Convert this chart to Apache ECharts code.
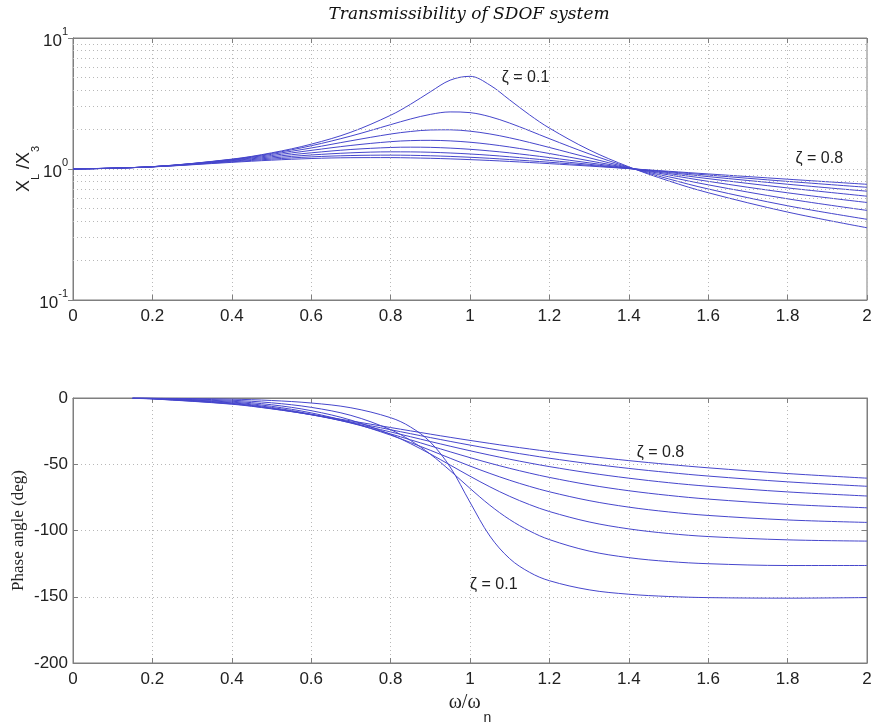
<!DOCTYPE html>
<html><head><meta charset="utf-8">
<script src="https://cdn.jsdelivr.net/npm/echarts@6/dist/echarts.min.js"></script>
<style>html,body{margin:0;padding:0;background:#fff}#c{width:872px;height:726px}</style>
</head><body><div id="c"></div>
<script>
// damping ratios
const zetaLabels = ['0.1','0.2','0.3','0.4','0.5','0.6','0.7','0.8'];

// frequency ratio samples (top: magnitude)
const xMag = [0, 0.2, 0.4, 0.5, 0.6, 0.7, 0.8, 0.85, 0.9, 0.95, 1.0, 1.05, 1.1, 1.15, 1.2, 1.3, 1.4, 1.5, 1.6, 1.8, 2.0];
const mag1 = [1, 1.042, 1.189, 1.328, 1.547, 1.909, 2.571, 3.117, 3.882, 4.766, 5.099, 4.373, 3.367, 2.590, 2.052, 1.401, 1.039, 0.812, 0.659, 0.469, 0.356];
const mag2 = [1, 1.041, 1.184, 1.314, 1.505, 1.785, 2.180, 2.407, 2.611, 2.727, 2.693, 2.509, 2.241, 1.959, 1.704, 1.305, 1.031, 0.841, 0.704, 0.524, 0.413];
const mag3 = [1, 1.041, 1.177, 1.293, 1.447, 1.642, 1.849, 1.933, 1.985, 1.991, 1.944, 1.852, 1.730, 1.595, 1.460, 1.218, 1.024, 0.873, 0.757, 0.592, 0.483];
const mag4 = [1, 1.041, 1.168, 1.267, 1.387, 1.513, 1.617, 1.647, 1.655, 1.639, 1.601, 1.543, 1.472, 1.394, 1.313, 1.156, 1.018, 0.902, 0.805, 0.658, 0.555];
const mag5 = [1, 1.040, 1.158, 1.240, 1.329, 1.409, 1.460, 1.468, 1.463, 1.444, 1.414, 1.374, 1.328, 1.276, 1.222, 1.114, 1.014, 0.923, 0.844, 0.717, 0.620];
const mag6 = [1, 1.039, 1.147, 1.214, 1.279, 1.329, 1.352, 1.351, 1.342, 1.325, 1.302, 1.273, 1.239, 1.203, 1.164, 1.086, 1.010, 0.940, 0.875, 0.765, 0.677];
const mag7 = [1, 1.039, 1.135, 1.190, 1.237, 1.267, 1.276, 1.272, 1.262, 1.248, 1.229, 1.207, 1.181, 1.154, 1.126, 1.067, 1.008, 0.952, 0.899, 0.804, 0.725];
const mag8 = [1, 1.038, 1.124, 1.168, 1.202, 1.220, 1.222, 1.216, 1.207, 1.195, 1.179, 1.162, 1.142, 1.121, 1.099, 1.053, 1.007, 0.961, 0.917, 0.836, 0.764];

// frequency ratio samples (bottom: phase, deg)
const xPhase = [0.15, 0.2, 0.4, 0.5, 0.6, 0.7, 0.8, 0.85, 0.9, 0.95, 1.0, 1.05, 1.1, 1.15, 1.2, 1.3, 1.4, 1.5, 1.6, 1.8, 2.0];
const ph1 = [-0.04, -0.10, -0.87, -1.88, -3.78, -7.38, -14.87, -21.85, -33.25, -52.08, -78.69, -104.16, -121.26, -131.55, -137.9, -144.78, -148.1, -149.8, -150.66, -151.07, -150.61];
const ph2 = [-0.08, -0.19, -1.69, -3.62, -7.06, -13.12, -23.89, -32.0, -42.38, -54.83, -68.20, -80.93, -91.76, -100.33, -106.87, -115.52, -120.49, -123.40, -125.07, -126.43, -126.41];
const ph3 = [-0.12, -0.28, -2.45, -5.10, -9.56, -16.69, -27.49, -34.43, -42.25, -50.61, -59.04, -67.03, -74.23, -80.45, -85.68, -93.54, -98.78, -102.26, -104.56, -107.06, -108.0];
const ph4 = [-0.16, -0.37, -3.11, -6.27, -11.23, -18.43, -28.02, -33.58, -39.46, -45.45, -51.34, -56.92, -62.07, -66.70, -70.79, -77.44, -82.36, -85.97, -88.63, -92.04, -93.9];
const ph5 = [-0.19, -0.46, -3.66, -7.13, -12.19, -18.93, -27.11, -31.55, -36.09, -40.61, -45.0, -49.18, -53.08, -56.67, -59.94, -65.53, -69.98, -73.50, -76.28, -80.27, -82.87];
const ph6 = [-0.23, -0.54, -4.10, -7.70, -12.61, -18.71, -25.62, -29.21, -32.82, -36.37, -39.81, -43.09, -46.19, -49.08, -51.77, -56.52, -60.51, -63.9, -66.61, -70.88, -73.96];
const ph7 = [-0.27, -0.62, -4.44, -8.03, -12.66, -18.09, -23.94, -26.92, -29.86, -32.74, -35.54, -38.22, -40.76, -43.17, -45.44, -49.55, -53.13, -56.22, -58.91, -63.28, -66.64];
const ph8 = [-0.30, -0.69, -4.68, -8.19, -12.48, -17.28, -22.29, -24.79, -27.26, -29.68, -32.01, -34.25, -36.41, -38.46, -40.42, -44.03, -47.26, -50.13, -52.69, -57.02, -60.5];

// log-axis minor grid values
const logMinor = [0.2, 0.3, 0.4, 0.5, 0.6, 0.7, 0.8, 0.9, 2, 3, 4, 5, 6, 7, 8, 9];

// text annotations: [text, x, y]
const magNotes = [['ζ = 0.1', 1.08, 4.95], ['ζ = 0.8', 1.82, 1.21]];
const phaseNotes = [['ζ = 0.8', 1.42, -41], ['ζ = 0.1', 1.0, -141]];

const title = 'Transmissibility of SDOF system';

const magSets = [mag1, mag2, mag3, mag4, mag5, mag6, mag7, mag8];
const phSets = [ph1, ph2, ph3, ph4, ph5, ph6, ph7, ph8];

const LINE = '#4646cc';
const AX = '#7f7f7f';
const GRIDC = '#b8b8b8';
const SANS = 'Liberation Sans, Arial, sans-serif';
const SERIF = 'Liberation Serif, Times New Roman, serif';

function noteMark(notes) {
  return {
    symbol: 'circle', symbolSize: 0, silent: true, animation: false,
    label: { show: true, position: 'right', distance: 0, color: '#222', fontSize: 16, fontFamily: SANS,
      formatter: p => p.name },
    data: notes.map(n => ({ name: n[0], coord: [n[1], n[2]] }))
  };
}

const series = [];
magSets.forEach((arr, i) => {
  const s = {
    type: 'line', xAxisIndex: 0, yAxisIndex: 0, name: 'T ' + zetaLabels[i],
    data: xMag.map((x, j) => [x, arr[j]]), smooth: 0.35, symbol: 'none',
    lineStyle: { color: LINE, width: 1 }, z: 3
  };
  if (i === 0) {
    s.markLine = {
      silent: true, symbol: ['none', 'none'], animation: false,
      label: { show: false },
      lineStyle: { type: [1, 3], color: GRIDC, width: 1 },
      data: logMinor.map(v => ({ yAxis: v }))
    };
    s.markPoint = noteMark(magNotes);
  }
  series.push(s);
});
phSets.forEach((arr, i) => {
  const s = {
    type: 'line', xAxisIndex: 2, yAxisIndex: 2, name: 'P ' + zetaLabels[i],
    data: xPhase.map((x, j) => [x, arr[j]]), smooth: 0.35, symbol: 'none',
    lineStyle: { color: LINE, width: 1 }, z: 3
  };
  if (i === 0) s.markPoint = noteMark(phaseNotes);
  series.push(s);
});

function xAx(grid, pos, labels) {
  return {
    gridIndex: grid, type: 'value', position: pos, min: 0, max: 2, interval: 0.2,
    nameMoveOverlap: false,
    axisLine: { show: true, onZero: false, lineStyle: { color: AX, width: 1 } },
    axisTick: { show: true, inside: true, length: 5, lineStyle: { color: AX } },
    axisLabel: { show: labels, color: '#222', fontSize: 17, fontFamily: SANS, margin: 8 },
    splitLine: { show: labels, lineStyle: { type: [1, 3], color: GRIDC, width: 1 } }
  };
}

const ax0 = xAx(0, 'bottom', true);
const ax1 = xAx(0, 'top', false);
const ax2 = xAx(1, 'bottom', true);
ax2.name = '{a|ω/ω}{b|n}';
ax2.nameLocation = 'middle';
ax2.nameGap = 30;
ax2.nameTextStyle = { rich: {
  a: { fontFamily: SERIF, fontSize: 20, color: '#222', verticalAlign: 'top', lineHeight: 32 },
  b: { fontFamily: SANS, fontSize: 14, color: '#222', verticalAlign: 'bottom', lineHeight: 32, padding: [0, 0, 0, 3] }
} };
const ax3 = xAx(1, 'top', false);

function logY(pos, labels) {
  return {
    gridIndex: 0, type: 'log', logBase: 10, min: 0.1, max: 10, position: pos,
    nameMoveOverlap: false,
    axisLine: { show: true, lineStyle: { color: AX, width: 1 } },
    axisTick: { show: true, inside: true, length: 5, lineStyle: { color: AX } },
    axisLabel: { show: labels, margin: 5, formatter: v => '{b|10}{s|' + Math.round(Math.log10(v)) + '}',
      rich: {
        b: { fontSize: 17, fontFamily: SANS, color: '#222', verticalAlign: 'bottom', lineHeight: 24 },
        s: { fontSize: 11, fontFamily: SANS, color: '#222', verticalAlign: 'top', lineHeight: 24 }
      } },
    splitLine: { show: labels, lineStyle: { type: [1, 3], color: GRIDC, width: 1 } }
  };
}
const ay0 = logY('left', true);
ay0.name = '{a|X}{b|L}{a| /X}{b|3}';
ay0.nameLocation = 'middle';
ay0.nameGap = 32;
ay0.nameTextStyle = { rich: {
  a: { fontFamily: SANS, fontSize: 18, color: '#222', verticalAlign: 'top', lineHeight: 26 },
  b: { fontFamily: SANS, fontSize: 11, color: '#222', verticalAlign: 'bottom', lineHeight: 26 }
} };
const ay1 = logY('right', false);

function linY(pos, labels) {
  return {
    gridIndex: 1, type: 'value', min: -200, max: 0, interval: 50, position: pos,
    nameMoveOverlap: false,
    axisLine: { show: true, onZero: false, lineStyle: { color: AX, width: 1 } },
    axisTick: { show: true, inside: true, length: 5, lineStyle: { color: AX } },
    axisLabel: { show: labels, color: '#222', fontSize: 17, fontFamily: SANS, margin: 5 },
    splitLine: { show: labels, lineStyle: { type: [1, 3], color: GRIDC, width: 1 } }
  };
}
const ay2 = linY('left', true);
ay2.name = 'Phase angle (deg)';
ay2.nameLocation = 'middle';
ay2.nameGap = 46;
ay2.nameTextStyle = { fontFamily: SERIF, fontSize: 17, color: '#222' };
const ay3 = linY('right', false);

const option = {
  animation: false,
  backgroundColor: '#fff',
  grid: [
    { left: 73, top: 38, width: 794, height: 262, show: true, borderColor: AX, borderWidth: 1, backgroundColor: 'transparent', containLabel: false, outerBoundsMode: 'none' },
    { left: 73, top: 398, width: 794, height: 265, show: true, borderColor: AX, borderWidth: 1, backgroundColor: 'transparent', containLabel: false, outerBoundsMode: 'none' }
  ],
  xAxis: [ax0, ax1, ax2, ax3],
  yAxis: [ay0, ay1, ay2, ay3],
  graphic: [{
    type: 'text', x: 469, y: 15,
    style: { text: title, fill: '#111', font: 'italic 17px "DejaVu Serif", serif', textAlign: 'center', textVerticalAlign: 'middle' }
  }],
  series: series
};

const chart = echarts.init(document.getElementById('c'), null, { renderer: 'canvas' });
chart.setOption(option);
</script>
</body></html>
